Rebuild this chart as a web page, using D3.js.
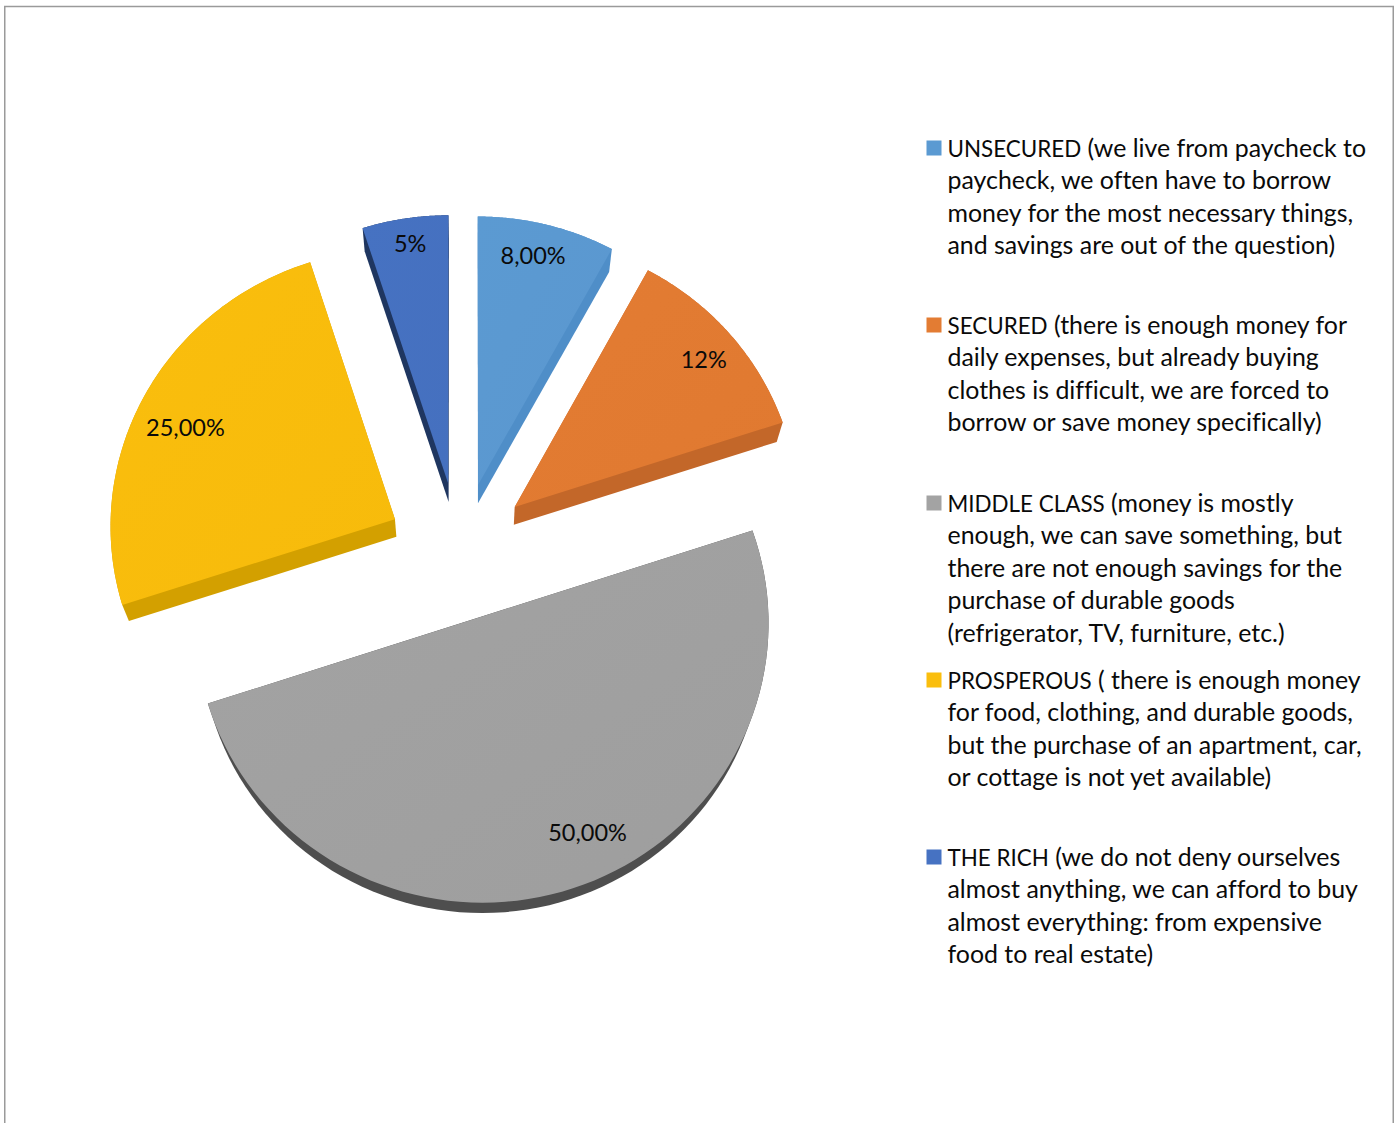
<!DOCTYPE html>
<html><head><meta charset="utf-8">
<script src="https://cdnjs.cloudflare.com/ajax/libs/d3/7.8.5/d3.min.js"></script>
<style>html,body{margin:0;padding:0;background:#fff}svg{display:block}text{font-family:Lato,"Open Sans",sans-serif;fill:#0a0a0a;font-variant-ligatures:none;font-kerning:normal}</style>
</head><body><svg id="c" width="1400" height="1123"></svg>
<script>
const categories = ["UNSECURED","SECURED","MIDDLE CLASS","PROSPEROUS","THE RICH"];
const values = [8,12,50,25,5];
const valueLabels = ["8,00%","12%","50,00%","25,00%","5%"];
const faceColors = ["#5b9ad2","#e37c33","#a3a3a3","#fabe0d","#4672c2"];
const faceColorsDark = ["#5b97cf","#e07930","#9e9e9e","#f7bb0b","#4570bf"];
const sideColors = ["#4f8ec8","#c36729","#4e4e4e","#d3a000","#1f3660"];
const legendRest = [
 [" (we live from paycheck to","paycheck, we often have to borrow","money for the most necessary things,","and savings are out of the question)"],
 [" (there is enough money for","daily expenses, but already buying","clothes is difficult, we are forced to","borrow or save money specifically)"],
 [" (money is mostly","enough, we can save something, but","there are not enough savings for the","purchase of durable goods","(refrigerator, TV, furniture, etc.)"],
 [" ( there is enough money","for food, clothing, and durable goods,","but the purchase of an apartment, car,","or cottage is not yet available)"],
 [" (we do not deny ourselves","almost anything, we can afford to buy","almost everything: from expensive","food to real estate)"]
];
// layout: pie plane seen in perspective
const cx=459, cy=549.65, scaleX=285, scaleY=277, persp=0.022, explode=0.243;
const nudgeX=[2,2.5,1.5,-2.5,0], nudgeY=[0,0,2.5,0,0];
const labelDx=[55,189,105.5,-209.5,-38], labelDy=[-229,-147,216.5,-91,-240];
const legendY=[148,325,503,680,857], lineGap=32.55, legendX=947.5, swatchX=926.5, swatchSize=15;
const vanish=[470,1450], depth=0.019;

const project=(X,Y)=>{const w=1+persp*Y;return [cx+scaleX*X/w, cy-scaleY*Y/w];};
const svg=d3.select("#c");
svg.append("path").attr("d","M4.75,1123V6.5H1393.25V1123").attr("fill","none").attr("stroke","#9a9a9a").attr("stroke-width",1.5);

const arcs=d3.pie().sort(null).startAngle(0).endAngle(2*Math.PI)(values);
const line=d3.line();
const defs=svg.append("defs");
const g=svg.append("g");
arcs.forEach((a,i)=>{
  const mid=(a.startAngle+a.endAngle)/2;
  const ox=explode*Math.sin(mid), oy=explode*Math.cos(mid);
  const place=(X,Y)=>{const p=project(X,Y);return [p[0]+nudgeX[i],p[1]+nudgeY[i]];};
  const pts=[place(ox,oy)];
  d3.range(0,81).forEach(k=>{
    const t=a.startAngle+(a.endAngle-a.startAngle)*k/80;
    pts.push(place(ox+Math.sin(t),oy+Math.cos(t)));
  });
  const ext=pts.map(p=>[p[0]+depth*(vanish[0]-p[0]),p[1]+depth*(vanish[1]-p[1])]);
  const hull=d3.polygonHull(pts.concat(ext));
  g.append("path").attr("d",line(hull)+"Z").attr("fill",sideColors[i]);
  const id="grad"+i;
  const lg=defs.append("linearGradient").attr("id",id).attr("x1","0").attr("y1","0").attr("x2","1").attr("y2","1");
  lg.append("stop").attr("offset","0").attr("stop-color",faceColors[i]);
  lg.append("stop").attr("offset","1").attr("stop-color",faceColorsDark[i]);
  g.append("path").attr("d",line(pts)+"Z").attr("fill",`url(#${id})`);
  g.append("text").attr("x",pts[0][0]+labelDx[i]).attr("y",pts[0][1]+labelDy[i]).attr("dy","0.35em")
   .attr("text-anchor","middle").attr("font-size",23.5).text(valueLabels[i]);
});
const leg=svg.append("g");
legendRest.forEach((lines,i)=>{
  leg.append("rect").attr("x",swatchX).attr("y",legendY[i]-swatchSize/2).attr("width",swatchSize).attr("height",swatchSize).attr("fill",faceColors[i]);
  lines.forEach((s,j)=>{
    const t=leg.append("text").attr("x",legendX).attr("y",legendY[i]+j*lineGap).attr("dy","0.35em").attr("font-size",24.9).style("white-space","pre");
    if(j===0) t.append("tspan").attr("font-size",22.4).text(categories[i]);
    t.append("tspan").text(s);
  });
});
</script></body></html>
